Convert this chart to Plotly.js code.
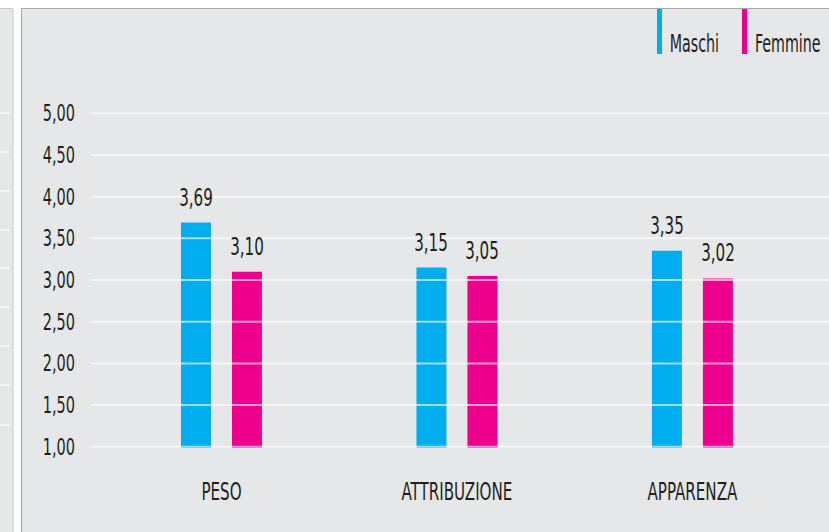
<!DOCTYPE html>
<html><head><meta charset="utf-8">
<script src="https://cdn.plot.ly/plotly-3.0.1.min.js"></script>
<style>html,body{margin:0;padding:0;background:#fff;}#chart{width:829px;height:532px;}</style>
</head><body><div id="chart"></div>
<script>
// ---- data ----
const categories = ['PESO', 'ATTRIBUZIONE', 'APPARENZA'];
const seriesNames = ['Maschi', 'Femmine'];
const maschi = [3.69, 3.15, 3.35];
const femmine = [3.10, 3.05, 3.02];
const yTickVals = [1.0, 1.5, 2.0, 2.5, 3.0, 3.5, 4.0, 4.5, 5.0];

// ---- style ----
const colors = ['#00aeef', '#ec008c'];
const FAMILY = '"DejaVu Sans Condensed", "Liberation Sans Narrow", sans-serif';
const SQUEEZE = 0.7;       // horizontal condensation of axis / value texts
const LEG_SQUEEZE = 0.66;  // horizontal condensation of legend texts
const TXT = '#231f20';
const W = 829, H = 532;
const M = {l: 91, r: 0, t: 60, b: 84};
const fmt = v => v.toFixed(2).replace('.', ',');
const px2x = px => (px - M.l) / (W - M.l - M.r);
const py2y = py => (H - M.b - py) / (H - M.t - M.b);
const ctx = document.createElement('canvas').getContext('2d');
const measure = (s, size) => { ctx.font = size + 'px ' + FAMILY; return ctx.measureText(s).width; };

const series = [maschi, femmine];
const traces = series.map((vals, i) => ({
  type: 'bar', x: categories, y: vals, name: seriesNames[i],
  marker: {color: colors[i], line: {width: 0}}, hoverinfo: 'skip'
}));

const shapes = [];
// left neighbour strip
shapes.push({type: 'rect', xref: 'paper', yref: 'paper', layer: 'below',
  x0: px2x(-3), x1: px2x(13), y0: py2y(540), y1: py2y(8.5),
  fillcolor: '#e6e7e8', line: {color: '#c7c8ca', width: 1}});
[113, 152, 191, 230, 268, 307, 346, 385, 425].forEach(py => shapes.push({
  type: 'line', xref: 'paper', yref: 'paper', layer: 'below',
  x0: px2x(0), x1: px2x(10), y0: py2y(py), y1: py2y(py),
  line: {color: '#f4f4f5', width: 2}}));
// main panel
shapes.push({type: 'rect', xref: 'paper', yref: 'paper', layer: 'below',
  x0: px2x(21.5), x1: px2x(840), y0: py2y(540), y1: py2y(8.5),
  fillcolor: '#e6e7e8', line: {color: '#a7a9ac', width: 1}});
// gridlines drawn over the bars
yTickVals.forEach(t => shapes.push({
  type: 'line', xref: 'paper', yref: 'y', layer: 'above',
  x0: 0, x1: 1, y0: t, y1: t,
  line: {color: 'rgba(255,255,255,0.62)', width: 2}}));
// legend swatches
const legX = [657, 742];
seriesNames.forEach((n, i) => shapes.push({
  type: 'rect', xref: 'paper', yref: 'paper', layer: 'above',
  x0: px2x(legX[i]), x1: px2x(legX[i] + 5), y0: py2y(54), y1: py2y(9),
  fillcolor: colors[i], line: {width: 0}}));

const LEG_SIZE = 24;
const annotations = [];
seriesNames.forEach((n, i) => {
  const wText = measure(n, LEG_SIZE) * LEG_SQUEEZE;
  annotations.push({
    xref: 'paper', yref: 'paper', x: px2x(legX[i] + 13 + wText / 2), y: py2y(44),
    xanchor: 'center', yanchor: 'middle', showarrow: false, text: n,
    font: {family: FAMILY, size: LEG_SIZE, color: TXT}});
});
const shift = [-25.5, 25.5];
series.forEach((vals, i) => vals.forEach((v, j) => annotations.push({
  xref: 'x', yref: 'y', x: categories[j], y: v, xshift: shift[i], yshift: 9,
  xanchor: 'center', yanchor: 'bottom', showarrow: false, text: fmt(v),
  font: {family: FAMILY, size: 24, color: TXT}})));

const layout = {
  width: W, height: H, margin: M,
  paper_bgcolor: '#ffffff', plot_bgcolor: 'rgba(0,0,0,0)',
  showlegend: false, separators: ',.',
  barmode: 'group', bargap: 0.567, bargroupgap: 0.412,
  font: {family: FAMILY, color: TXT},
  xaxis: {type: 'category', range: [-0.554, 2.58], showgrid: false, zeroline: false,
    showline: false, ticks: '', ticklabelstandoff: 27,
    tickfont: {family: FAMILY, size: 24, color: TXT}},
  yaxis: {range: [0.985, 5.64], tickvals: yTickVals, tickformat: '.2f',
    showgrid: false, zeroline: false, showline: false, ticks: '', ticklabelstandoff: 15,
    tickfont: {family: FAMILY, size: 23, color: TXT}},
  shapes: shapes, annotations: annotations
};
Plotly.newPlot('chart', traces, layout, {staticPlot: true, displayModeBar: false}).then(gd => {
  gd.querySelectorAll('svg text').forEach(t => {
    const len = t.getComputedTextLength();
    if (!(len > 0)) return;
    const ann = t.closest('.annotation');
    const isLegend = ann && Number(ann.getAttribute('data-index')) < seriesNames.length;
    if (isLegend) {
      t.style.transformBox = 'fill-box';
      t.style.transformOrigin = 'center';
      t.style.transform = 'scaleX(' + LEG_SQUEEZE + ')';
    } else {
      t.setAttribute('textLength', (len * SQUEEZE).toFixed(2));
      t.setAttribute('lengthAdjust', 'spacingAndGlyphs');
    }
  });
});
</script>
</body></html>
